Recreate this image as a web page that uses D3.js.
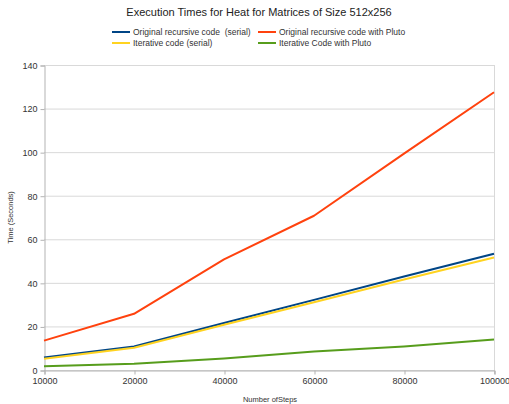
<!DOCTYPE html>
<html>
<head>
<meta charset="utf-8">
<script src="https://cdn.jsdelivr.net/npm/d3@7/dist/d3.min.js"></script>
<style>
  html, body { margin: 0; padding: 0; background: #fff; }
  svg { display: block; font-family: "Liberation Sans", Arial, sans-serif; }
  .legend-label { white-space: pre; }
</style>
</head>
<body>
<svg id="chart" width="509" height="404"></svg>
<script>
// Steps (categories on the x axis)
const steps = [10000, 20000, 40000, 60000, 80000, 100000];

// Execution times in seconds
const origSerial = [5.7, 10.8, 21.6, 32.2, 42.9, 53.4];
const origPluto  = [13.5, 25.8, 50.8, 70.8, 99.3, 127.5];
const iterSerial = [5.2, 10.2, 20.8, 31.1, 41.5, 51.6];
const iterPluto  = [1.7, 2.9, 5.3, 8.5, 10.8, 14.0];

const yTicks = [0, 20, 40, 60, 80, 100, 120, 140];

const seriesNames = [
  "Original recursive code  (serial)",
  "Original recursive code with Pluto",
  "Iterative code (serial)",
  "Iterative Code with Pluto"
];
const seriesColors = ["#004586", "#ff420e", "#ffd320", "#579d1c"];
const seriesValues = [origSerial, origPluto, iterSerial, iterPluto];

const svg = d3.select("#chart");
const plot = { left: 44, right: 494, top: 65, bottom: 370 };

const x = d3.scalePoint().domain(steps).range([plot.left, plot.right]);
const y = d3.scaleLinear().domain([0, 140]).range([plot.bottom, plot.top]);

// Horizontal gridlines
svg.append("g").selectAll("line").data(yTicks).join("line")
  .attr("x1", plot.left).attr("x2", plot.right)
  .attr("y1", d => y(d) + 0.5).attr("y2", d => y(d) + 0.5)
  .attr("stroke", "#d9d9d9").attr("stroke-width", 1);

// Right frame line
svg.append("line")
  .attr("x1", plot.right + 0.5).attr("x2", plot.right + 0.5)
  .attr("y1", plot.top).attr("y2", plot.bottom + 4)
  .attr("stroke", "#d9d9d9");

// Y axis
const yAxis = svg.append("g")
  .attr("transform", `translate(${plot.left + 0.5},0.5)`)
  .call(d3.axisLeft(y).tickValues(yTicks).tickSize(4).tickPadding(3));
yAxis.select(".domain").attr("stroke", "#b3b3b3");
yAxis.selectAll(".tick line").attr("stroke", "#b3b3b3");
yAxis.selectAll("text").attr("font-size", 9).attr("fill", "#333");

// X axis
const xAxis = svg.append("g")
  .attr("transform", `translate(0.5,${plot.bottom + 0.5})`)
  .call(d3.axisBottom(x).tickSize(4).tickPadding(3).tickFormat(d => String(d)));
xAxis.select(".domain").attr("stroke", "#b3b3b3");
xAxis.selectAll(".tick line").attr("stroke", "#b3b3b3");
xAxis.selectAll("text").attr("font-size", 9).attr("fill", "#333");

// Series lines
const line = d3.line().x((d, i) => x(steps[i])).y(d => y(d));
const drawOrder = [1, 0, 2, 3];
drawOrder.forEach(k => {
  svg.append("path")
    .datum(seriesValues[k])
    .attr("d", line)
    .attr("fill", "none")
    .attr("stroke", seriesColors[k])
    .attr("stroke-width", 2)
    .attr("stroke-linejoin", "round");
});

// Title
svg.append("text")
  .attr("x", 259).attr("y", 16)
  .attr("text-anchor", "middle")
  .attr("font-size", 11).attr("fill", "#222")
  .text("Execution Times for Heat for Matrices of Size 512x256");

// Legend
const legendPos = [
  { x: 112, y: 32 }, { x: 258, y: 32 },
  { x: 112, y: 43 }, { x: 258, y: 43 }
];
const legend = svg.append("g").selectAll("g").data(seriesNames).join("g")
  .attr("transform", (d, i) => `translate(${legendPos[i].x},${legendPos[i].y})`);
legend.append("line")
  .attr("x1", 0).attr("x2", 18).attr("y1", 0).attr("y2", 0)
  .attr("stroke", (d, i) => seriesColors[i]).attr("stroke-width", 2);
legend.append("text")
  .attr("class", "legend-label")
  .attr("x", 21).attr("y", 3)
  .attr("font-size", 8.5).attr("fill", "#333")
  .text(d => d);

// Axis titles
svg.append("text")
  .attr("transform", `translate(13,${(plot.top + plot.bottom) / 2}) rotate(-90)`)
  .attr("text-anchor", "middle")
  .attr("font-size", 7.5).attr("fill", "#333")
  .text("Time (Seconds)");
svg.append("text")
  .attr("x", 270).attr("y", 402)
  .attr("text-anchor", "middle")
  .attr("font-size", 7.5).attr("fill", "#333")
  .text("Number ofSteps");
</script>
</body>
</html>
